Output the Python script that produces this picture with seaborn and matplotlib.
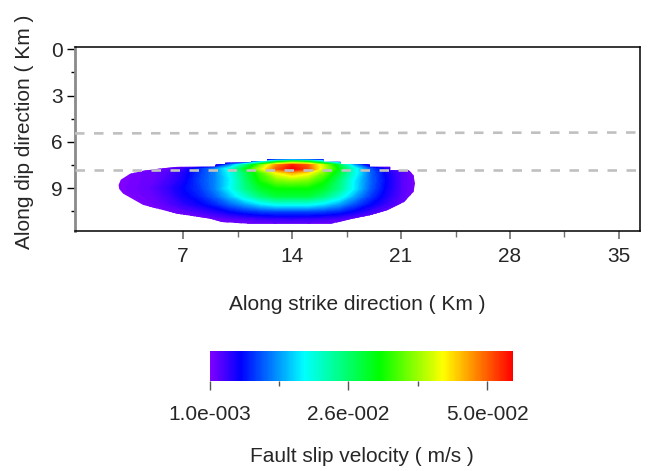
import numpy as np
import matplotlib
matplotlib.use("Agg")
import matplotlib.pyplot as plt
import seaborn as sns
from matplotlib.colors import LinearSegmentedColormap, Normalize
from matplotlib.patches import Polygon
from matplotlib.ticker import FixedLocator

# ---- data -----------------------------------------------------------------
# grid of the slip-velocity snapshot (km along strike, km down dip)
strike_km = [2, 3, 4, 5, 6, 7, 8, 9, 10, 11, 12, 13, 14, 15, 16, 17, 18, 19, 20, 21, 22]
dip_km = [7.1, 7.25, 7.5, 7.75, 8.0, 8.5, 9.0, 9.5, 10.0, 10.5, 11.0, 11.5]

# slip velocity (m/s), one row per dip_km value
slip_rate = [
    [0.001, 0.001, 0.001, 0.001, 0.001, 0.001, 0.001, 0.001, 0.001, 0.001, 0.001, 0.001, 0.001, 0.001, 0.001, 0.001, 0.001, 0.001, 0.001, 0.001, 0.001],
    [0.001, 0.001, 0.001, 0.001, 0.001, 0.001, 0.001, 0.001, 0.001, 0.002, 0.012, 0.024, 0.030, 0.027, 0.018, 0.006, 0.001, 0.001, 0.001, 0.001, 0.001],
    [0.001, 0.001, 0.001, 0.001, 0.001, 0.001, 0.001, 0.003, 0.012, 0.024, 0.036, 0.048, 0.053, 0.050, 0.040, 0.028, 0.014, 0.004, 0.001, 0.001, 0.001],
    [0.001, 0.001, 0.001, 0.001, 0.002, 0.004, 0.008, 0.012, 0.019, 0.029, 0.040, 0.050, 0.0546, 0.051, 0.040, 0.030, 0.019, 0.010, 0.005, 0.001, 0.001],
    [0.001, 0.001, 0.0015, 0.002, 0.003, 0.005, 0.0085, 0.012, 0.018, 0.026, 0.034, 0.042, 0.046, 0.043, 0.036, 0.028, 0.019, 0.011, 0.006, 0.003, 0.001],
    [0.001, 0.0011, 0.0015, 0.002, 0.0035, 0.0055, 0.009, 0.012, 0.017, 0.025, 0.032, 0.036, 0.037, 0.036, 0.032, 0.025, 0.017, 0.011, 0.0065, 0.003, 0.001],
    [0.001, 0.0012, 0.0016, 0.0025, 0.0042, 0.0064, 0.0085, 0.012, 0.0176, 0.024, 0.029, 0.031, 0.031, 0.031, 0.029, 0.024, 0.017, 0.0105, 0.0062, 0.003, 0.001],
    [0.001, 0.001, 0.0014, 0.002, 0.0035, 0.0058, 0.0075, 0.0105, 0.015, 0.020, 0.025, 0.028, 0.028, 0.028, 0.025, 0.020, 0.014, 0.009, 0.0055, 0.0028, 0.001],
    [0.001, 0.001, 0.001, 0.0016, 0.0028, 0.0045, 0.006, 0.008, 0.011, 0.014, 0.017, 0.019, 0.019, 0.019, 0.017, 0.014, 0.010, 0.0068, 0.0042, 0.0022, 0.001],
    [0.001, 0.001, 0.001, 0.001, 0.0015, 0.0025, 0.0035, 0.0048, 0.0065, 0.008, 0.009, 0.0095, 0.0095, 0.0095, 0.009, 0.008, 0.006, 0.004, 0.0022, 0.001, 0.001],
    [0.001, 0.001, 0.001, 0.001, 0.001, 0.001, 0.0012, 0.0018, 0.0025, 0.003, 0.0035, 0.0038, 0.004, 0.0038, 0.0035, 0.003, 0.002, 0.0012, 0.001, 0.001, 0.001],
    [0.001, 0.001, 0.001, 0.001, 0.001, 0.001, 0.001, 0.001, 0.001, 0.001, 0.001, 0.001, 0.001, 0.001, 0.001, 0.001, 0.001, 0.001, 0.001, 0.001, 0.001],
]

# outline of the slipping patch (strike km, dip km)
rupture_outline = [
    (2.86, 8.79), (3.0, 8.45), (3.6, 8.06), (4.5, 7.86), (5.5, 7.73), (6.6, 7.62),
    (9.1, 7.62), (9.1, 7.47), (9.7, 7.47), (9.7, 7.36), (11.4, 7.36), (11.4, 7.25),
    (12.4, 7.25), (12.4, 7.15), (16.0, 7.15), (16.0, 7.30), (17.1, 7.30), (17.1, 7.47),
    (19.0, 7.47), (19.0, 7.62), (20.3, 7.62), (20.3, 7.84), (21.5, 7.84), (21.8, 8.15),
    (21.9, 8.70), (21.8, 9.24), (21.2, 9.89), (20.1, 10.43), (19.0, 10.75), (17.9, 10.97),
    (17.0, 11.19), (16.5, 11.30), (11.2, 11.30), (9.5, 11.19), (8.73, 10.97), (6.61, 10.65),
    (4.43, 10.08), (3.15, 9.35), (2.9, 9.05),
]

# dashed reference depths (strike km endpoints, dip km)
ref_x = [0.06, 36.35]
ref_upper = [5.45, 5.39]
ref_lower = [7.80, 7.80]

x_ticks = [7, 14, 21, 28, 35]
x_minor = [10.5, 17.5, 24.5, 31.5]
y_ticks = [0, 3, 6, 9]
y_minor = [1.5, 4.5, 7.5, 10.5]

v_min, v_max = 0.001, 0.0546
cbar_ticks = [0.001, 0.0255, 0.050]
cbar_minor = [0.01325, 0.03775]
cbar_labels = ["1.0e-003", "2.6e-002", "5.0e-002"]

# ---- style ----------------------------------------------------------------
sns.set_theme(style="white")
plt.rcParams["font.family"] = ["Liberation Sans", "DejaVu Sans"]
plt.rcParams["font.size"] = 15

cmap = LinearSegmentedColormap.from_list(
    "slip",
    [(0.0, "#8000ff"), (0.10, "#0000ff"), (0.31, "#00ffff"),
     (0.56, "#00ff00"), (0.77, "#ffff00"), (1.0, "#ff0000")],
)
norm = Normalize(vmin=v_min, vmax=v_max)

fig = plt.figure(figsize=(6.5, 4.71), dpi=100)
ax = fig.add_axes([75 / 650, 1 - 230.5 / 471, 565 / 650, 183.2 / 471])

# ---- slip velocity field ----------------------------------------------------
X, Y = np.meshgrid(strike_km, dip_km)
Z = np.array(slip_rate)
levels = np.linspace(v_min, v_max, 160)
cs = ax.contourf(X, Y, Z, levels=levels, cmap=cmap, norm=norm, extend="both",
                 antialiased=False, zorder=1)
clip = Polygon(rupture_outline, closed=True, facecolor="none", edgecolor="none",
               transform=ax.transData)
ax.add_patch(clip)
cs.set_clip_path(clip)

# dashed depth markers
for depth in (ref_upper, ref_lower):
    sns.lineplot(x=ref_x, y=depth, ax=ax, color="#c0c0c0", linewidth=1.9,
                 linestyle=(0, (3.6, 3.6)), zorder=3, estimator=None, sort=False)

ax.set_xlim(0.06, 36.35)
ax.set_ylim(11.74, -0.13)

# axes frame
for side in ("top", "right", "bottom"):
    ax.spines[side].set_color("black")
    ax.spines[side].set_linewidth(1.1)
ax.spines["left"].set_color("#8a8a8a")
ax.spines["left"].set_linewidth(2.0)

ax.xaxis.set_major_locator(FixedLocator(x_ticks))
ax.xaxis.set_minor_locator(FixedLocator(x_minor))
ax.yaxis.set_major_locator(FixedLocator(y_ticks))
ax.yaxis.set_minor_locator(FixedLocator(y_minor))
ax.tick_params(axis="x", which="major", bottom=True, direction="out", length=6,
               width=1.2, color="#707070", pad=6, labelsize=15)
ax.tick_params(axis="x", which="minor", bottom=True, direction="out", length=4,
               width=1.0, color="#707070")
ax.tick_params(axis="y", which="major", left=True, direction="out", length=6,
               width=1.0, color="black", pad=3, labelsize=15)
ax.tick_params(axis="y", which="minor", left=True, direction="out", length=3,
               width=1.0, color="black")

fig.text(357.5 / 650, 1 - 304 / 471, "Along strike direction ( Km )",
         ha="center", va="center", fontsize=15)
fig.text(24 / 650, 1 - 131.7 / 471, "Along dip direction ( Km )",
         ha="center", va="center", rotation=90, fontsize=15)

# ---- colour bar ---------------------------------------------------------------
cax = fig.add_axes([210 / 650, 1 - 381 / 471, 303 / 650, 30 / 471])
sm = matplotlib.cm.ScalarMappable(norm=norm, cmap=cmap)
cbar = fig.colorbar(sm, cax=cax, orientation="horizontal")
cbar.outline.set_visible(False)
cbar.set_ticks(cbar_ticks)
cbar.set_ticklabels(cbar_labels)
cax.xaxis.set_minor_locator(FixedLocator(cbar_minor))
cax.tick_params(axis="x", which="major", direction="out", length=6.5, width=1.0,
                color="#555555", pad=11, labelsize=15)
cax.tick_params(axis="x", which="minor", direction="out", length=3.6, width=1.0,
                color="#555555")
fig.text(361.5 / 650, 1 - 456 / 471, "Fault slip velocity ( m/s )",
         ha="center", va="center", fontsize=15)

fig.savefig("out.png", dpi=100)
